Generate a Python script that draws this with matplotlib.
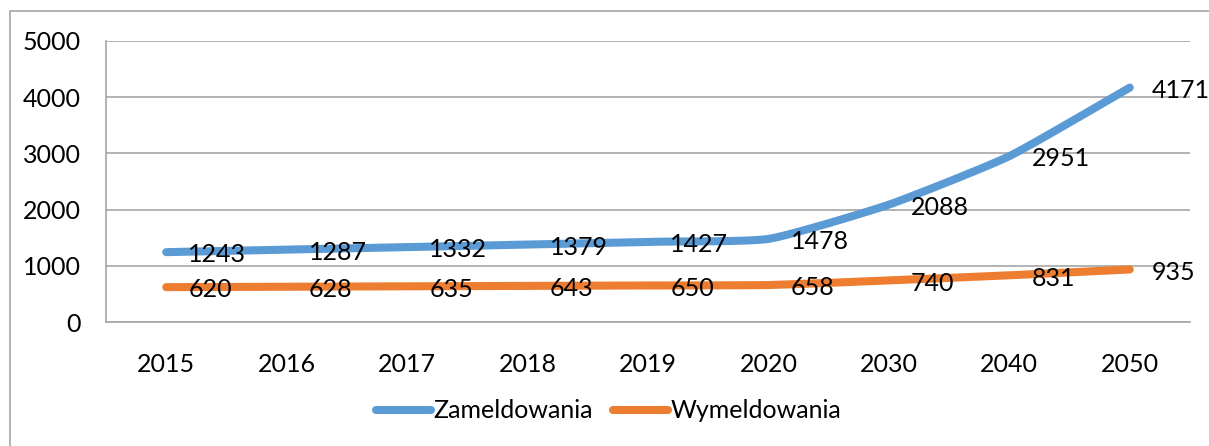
import numpy as np
import matplotlib
matplotlib.use("Agg")
import matplotlib.pyplot as plt
from matplotlib.patches import Rectangle

plt.rcParams["font.family"] = ["Lato", "DejaVu Sans"]

years        = ["2015", "2016", "2017", "2018", "2019", "2020", "2030", "2040", "2050"]
zameldowania = [1243, 1287, 1332, 1379, 1427, 1478, 2088, 2951, 4171]
wymeldowania = [620, 628, 635, 643, 650, 658, 740, 831, 935]

BLUE   = "#5B9BD5"
ORANGE = "#ED7D31"
GRID   = "#A6A6A6"
FS     = 18


def smooth(xs, ys, k=12, n=30):
    """Lightly smoothed line: cubic Bezier segments with short Catmull-Rom handles."""
    xs = np.asarray(xs, float)
    ys = np.asarray(ys, float)
    px = np.concatenate([[xs[0]], xs, [xs[-1]]])
    py = np.concatenate([[ys[0]], ys, [ys[-1]]])
    out_x, out_y = [], []
    t = np.linspace(0, 1, n)
    for i in range(1, len(px) - 2):
        p0 = np.array([px[i], py[i]])
        p3 = np.array([px[i + 1], py[i + 1]])
        c1 = p0 + (np.array([px[i + 1], py[i + 1]]) - np.array([px[i - 1], py[i - 1]])) / k
        c2 = p3 - (np.array([px[i + 2], py[i + 2]]) - np.array([px[i], py[i]])) / k
        b = ((1 - t) ** 3)[:, None] * p0 + (3 * (1 - t) ** 2 * t)[:, None] * c1 \
            + (3 * (1 - t) * t ** 2)[:, None] * c2 + (t ** 3)[:, None] * p3
        out_x.extend(b[:, 0])
        out_y.extend(b[:, 1])
    return out_x, out_y


fig = plt.figure(figsize=(12.09, 4.46), dpi=100)
# chart-area frame, running off the right and bottom edges
fig.patches.append(Rectangle((10 / 1209, -0.5), 1.5, 1.5 - 11 / 446,
                             transform=fig.transFigure, fill=False,
                             edgecolor=GRID, linewidth=1.2))
ax = fig.add_axes([106 / 1209, 1 - 322 / 446, (1190 - 106) / 1209, (322 - 41) / 446])

x = np.arange(len(years))
for vals, color, label in [(zameldowania, BLUE, "Zameldowania"),
                           (wymeldowania, ORANGE, "Wymeldowania")]:
    sx, sy = smooth(x, vals)
    ax.plot(sx, sy, color=color, linewidth=5.8, solid_capstyle="round",
            solid_joinstyle="round", label=label)
    for xi, v in zip(x, vals):
        ax.annotate(str(v), (xi, v), xytext=(16, -2), textcoords="offset points",
                    ha="left", va="center", fontsize=FS, color="black",
                    annotation_clip=False)

ax.set_xlim(-0.5, len(years) - 0.5)
ax.set_ylim(0, 5000)
ax.set_yticks(range(0, 5001, 1000))
ax.set_xticks(x)
ax.set_xticklabels(years)
ax.tick_params(length=0, labelsize=FS, colors="black")
ax.tick_params(axis="y", pad=18)
ax.tick_params(axis="x", pad=22)
ax.grid(axis="y", color=GRID, linewidth=1.2)
ax.set_axisbelow(True)
for side in ["top", "right"]:
    ax.spines[side].set_visible(False)
for side in ["left", "bottom"]:
    ax.spines[side].set_color(GRID)
    ax.spines[side].set_linewidth(1.2)

fig.legend(loc="center", bbox_to_anchor=(609 / 1209, 1 - 411 / 446), ncol=2,
           frameon=False, fontsize=FS, handlelength=2.2, handletextpad=0.1,
           columnspacing=0.8)

fig.savefig("out.png", dpi=100)
